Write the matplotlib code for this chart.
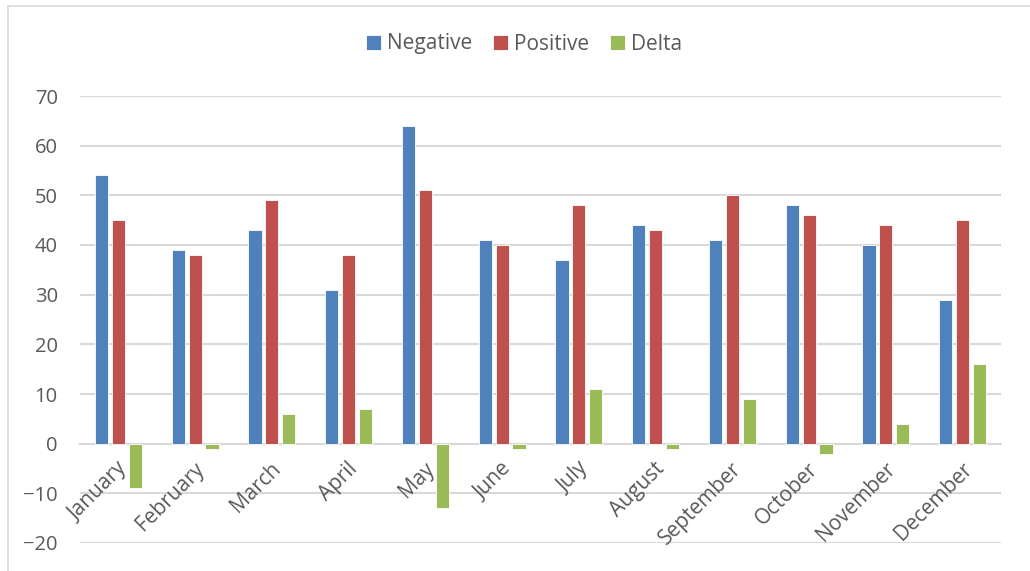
import matplotlib
matplotlib.use("Agg")
import matplotlib.pyplot as plt
from matplotlib.patches import Rectangle
import numpy as np

months = ["January", "February", "March", "April", "May", "June", "July",
          "August", "September", "October", "November", "December"]
negative = [54, 39, 43, 31, 64, 41, 37, 44, 41, 48, 40, 29]
positive = [45, 38, 49, 38, 51, 40, 48, 43, 50, 46, 44, 45]
delta = [-9, -1, 6, 7, -13, -1, 11, -1, 9, -2, 4, 16]
series_names = ["Negative", "Positive", "Delta"]
colors = ["#4F81BD", "#C0504D", "#9BBB59"]
yticks = [-20, -10, 0, 10, 20, 30, 40, 50, 60, 70]

plt.rcParams['font.family'] = ['Open Sans', 'DejaVu Sans']
txt = "#595959"
grid = "#D9D9D9"

fig = plt.figure(figsize=(10.30, 5.71), dpi=100)
fig.patches.append(Rectangle((8/1030, -0.1), 1.2, 1.1 - 6/571, transform=fig.transFigure,
                             fill=False, edgecolor=grid, linewidth=1.2))
ax = fig.add_axes([80/1030, 1 - 543/571, 921/1030, (543 - 96)/571])

x = np.arange(len(months))
w = 0.17
step = 0.22
for i, (vals, name, c) in enumerate(zip([negative, positive, delta], series_names, colors)):
    ax.bar(x + (i - 1) * step, vals, width=w, color=c, edgecolor="white",
           linewidth=0.6, label=name, zorder=3)

ax.set_xlim(-0.5, len(months) - 0.5)
ax.set_ylim(-20, 70)
ax.set_yticks(yticks)
ax.yaxis.grid(True, color=grid, linewidth=1.5)
ax.set_axisbelow(True)
ax.xaxis.set_zorder(2.5)
for s in ["top", "right", "left"]:
    ax.spines[s].set_visible(False)
ax.spines["bottom"].set_position(("data", 0))
ax.spines["bottom"].set_color(grid)
ax.spines["bottom"].set_linewidth(1.5)
ax.spines["bottom"].set_zorder(2)
ax.tick_params(axis="y", length=0, labelsize=14.5, labelcolor=txt, pad=16)
ax.tick_params(axis="x", length=0, labelsize=15, labelcolor=txt, pad=16)
ax.set_xticks(x + 0.08)
ax.set_xticklabels(months, rotation=45, ha="right", va="center", rotation_mode="anchor")

leg = fig.legend(loc="center", bbox_to_anchor=(0.509, 1 - 44/571), ncol=3, frameon=False,
                 fontsize=15, handlelength=0.7, handleheight=0.7, handletextpad=0.3,
                 columnspacing=1.0, labelcolor=txt)

fig.savefig("out.png", dpi=100)
